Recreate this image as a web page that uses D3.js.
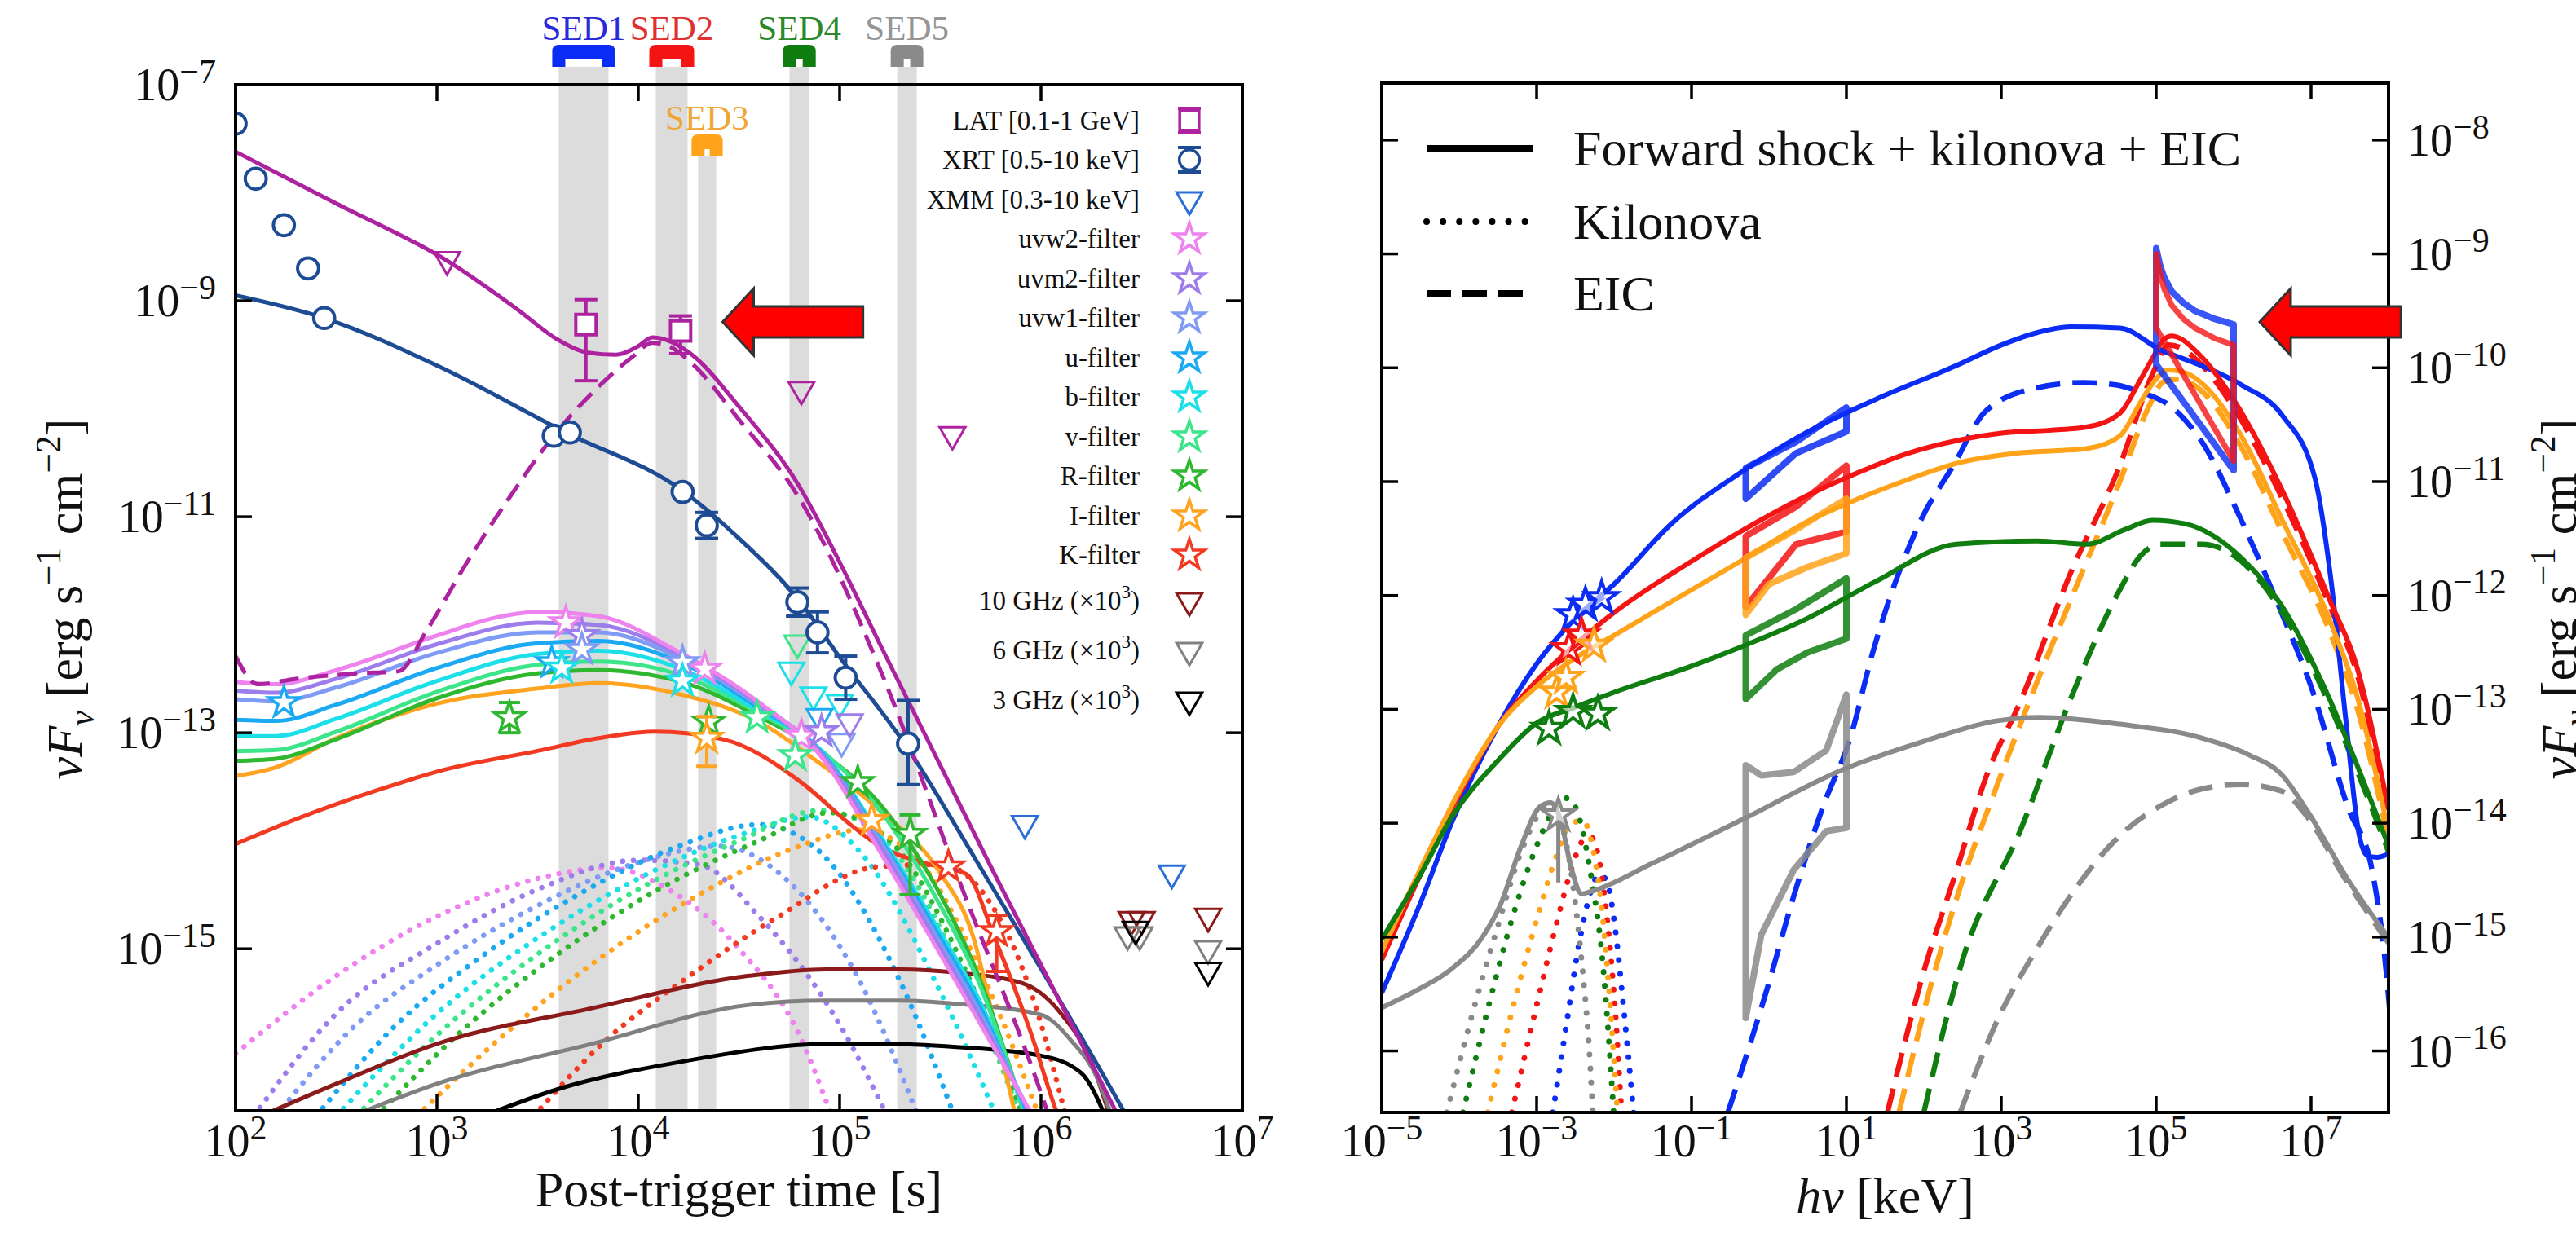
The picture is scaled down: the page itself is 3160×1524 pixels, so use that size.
<!DOCTYPE html>
<html><head><meta charset="utf-8">
<script src="https://cdn.jsdelivr.net/npm/d3@7"></script>
<style>body{margin:0;background:#fff}svg{display:block}text{font-family:"Liberation Serif","Times New Roman",serif;fill:#111}</style>
</head><body><svg id="c" width="3160" height="1524"></svg>
<script>
// ================= DATA (all values are log10) =================
// ---- Left panel: x = log10(t [s]), y = log10(nuFnu)
const sedNames=["SED1","SED2","SED3","SED4","SED5"];
const sedRanges=[[3.605,3.852],[4.087,4.245],[4.297,4.387],[4.751,4.849],[5.286,5.383]];
const sedColors=["#0a2cf5","#f51414","#ffa31a","#0f7d0f","#8a8a8a"];
const sedTextColors=["#2a2ad8","#e03030","#f0a635","#2a8a2a","#959595"];

const latModel=[[2.0,-7.62],[2.5,-8.1],[3.06,-8.64],[3.4,-9.08],[3.6,-9.36],[3.75,-9.48],[3.89,-9.5],[4.0,-9.42],[4.07,-9.34],[4.15,-9.37],[4.26,-9.49],[4.5,-9.98],[4.8,-10.72],[5.0,-11.42],[5.2,-12.18],[5.74,-14.2],[6.37,-16.5],[6.45,-16.8]];
const latEIC=[[2.0,-12.29],[2.11,-12.55],[2.3,-12.5],[2.6,-12.45],[2.81,-12.43],[2.95,-12.05],[3.14,-11.45],[3.35,-10.85],[3.58,-10.25],[3.8,-9.8],[3.97,-9.52],[4.07,-9.39],[4.15,-9.42],[4.26,-9.57],[4.5,-10.1],[4.8,-10.83],[5.2,-12.41],[5.6,-14.4],[6.03,-16.5],[6.1,-16.9]];
const xrtModel=[[2.0,-8.95],[2.44,-9.16],[3.0,-9.6],[3.64,-10.22],[4.22,-10.76],[4.5,-11.2],[4.8,-11.78],[5.0,-12.3],[5.33,-13.12],[5.7,-14.25],[6.41,-16.5],[6.5,-16.8]];

const uvw2Model=[[2.0,-12.53],[2.2,-12.55],[2.5,-12.42],[3.0,-12.1],[3.3,-11.93],[3.5,-11.88],[3.8,-11.92],[4.2,-12.25],[4.6,-12.72],[4.9,-13.2],[5.2,-14.1],[5.5,-15.05],[5.7,-15.7],[5.96,-16.55]];
const uvm2Model=[[2.0,-12.61],[2.2,-12.63],[2.5,-12.5],[3.0,-12.18],[3.5,-11.98],[3.8,-12.0],[4.2,-12.27],[4.6,-12.73],[4.9,-13.18],[5.2,-14.05],[5.5,-15.0],[5.7,-15.65],[5.95,-16.55]];
const uvw1Model=[[2.0,-12.69],[2.2,-12.71],[2.5,-12.58],[3.0,-12.26],[3.5,-12.07],[3.8,-12.07],[4.2,-12.3],[4.6,-12.75],[4.9,-13.17],[5.2,-14.0],[5.5,-14.95],[5.7,-15.6],[5.95,-16.55]];
const uModel=[[2.0,-12.88],[2.2,-12.89],[2.5,-12.74],[3.0,-12.4],[3.5,-12.17],[3.8,-12.15],[4.2,-12.34],[4.6,-12.77],[4.9,-13.16],[5.2,-13.98],[5.5,-14.9],[5.7,-15.55],[5.94,-16.55]];
const bModel=[[2.0,-13.03],[2.2,-13.03],[2.5,-12.87],[3.0,-12.52],[3.5,-12.27],[3.8,-12.24],[4.2,-12.4],[4.6,-12.8],[4.9,-13.15],[5.2,-13.95],[5.5,-14.85],[5.7,-15.5],[5.93,-16.55]];
const vModel=[[2.0,-13.17],[2.2,-13.16],[2.5,-12.99],[3.0,-12.62],[3.5,-12.37],[3.8,-12.34],[4.2,-12.46],[4.6,-12.82],[4.9,-13.15],[5.2,-13.72],[5.5,-14.6],[5.7,-15.35],[5.92,-16.55]];
const rModel=[[2.0,-13.26],[2.2,-13.24],[2.5,-13.06],[3.0,-12.68],[3.5,-12.45],[3.8,-12.42],[4.2,-12.52],[4.6,-12.85],[4.9,-13.17],[5.2,-13.66],[5.5,-14.5],[5.7,-15.3],[5.92,-16.55]];
const iModel=[[2.0,-13.4],[2.2,-13.32],[2.5,-13.05],[3.0,-12.73],[3.5,-12.59],[3.8,-12.54],[4.2,-12.64],[4.6,-12.9],[4.9,-13.28],[5.2,-13.72],[5.5,-14.3],[5.66,-14.87],[5.79,-15.87],[5.88,-16.6]];
const kModel=[[2.0,-14.03],[2.3,-13.8],[2.74,-13.51],[3.0,-13.36],[3.52,-13.16],[3.8,-13.05],[4.08,-12.99],[4.42,-13.06],[4.81,-13.46],[5.06,-13.86],[5.19,-14.04],[5.45,-14.22],[5.63,-14.31],[5.77,-14.9],[5.95,-15.78],[6.08,-16.52],[6.12,-16.7]];

const uvw2KN=[[2.0,-15.97],[2.5,-15.25],[3.0,-14.7],[3.5,-14.35],[3.85,-14.25],[4.15,-14.45],[4.5,-15.0],[4.8,-15.8],[4.97,-16.6]];
const uvm2KN=[[2.09,-16.55],[2.5,-15.6],[3.0,-14.95],[3.5,-14.45],[4.0,-14.18],[4.3,-14.22],[4.6,-14.7],[5.0,-15.7],[5.25,-16.6]];
const uvw1KN=[[2.2,-16.55],[2.6,-15.7],[3.0,-15.15],[3.5,-14.6],[4.0,-14.2],[4.4,-14.05],[4.7,-14.3],[5.1,-15.3],[5.4,-16.6]];
const uKN=[[2.4,-16.55],[2.8,-15.7],[3.2,-15.1],[3.7,-14.5],[4.2,-14.05],[4.6,-13.85],[4.9,-14.1],[5.3,-15.3],[5.58,-16.6]];
const bKN=[[2.5,-16.55],[3.0,-15.6],[3.5,-14.9],[4.0,-14.35],[4.5,-13.95],[4.85,-13.78],[5.1,-14.1],[5.5,-15.4],[5.79,-16.6]];
const vKN=[[2.6,-16.55],[3.0,-15.8],[3.5,-15.05],[4.0,-14.45],[4.5,-14.0],[4.9,-13.72],[5.2,-13.95],[5.6,-15.2],[5.91,-16.6]];
const rKN=[[2.7,-16.55],[3.1,-15.8],[3.6,-15.05],[4.1,-14.45],[4.6,-14.0],[4.95,-13.74],[5.25,-14.0],[5.6,-15.1],[5.92,-16.6]];
const iKN=[[2.9,-16.55],[3.3,-15.85],[3.8,-15.1],[4.3,-14.5],[4.8,-14.05],[5.1,-13.9],[5.35,-14.1],[5.7,-15.2],[6.0,-16.6]];
const kKN=[[3.48,-16.55],[3.82,-15.88],[4.24,-15.27],[4.68,-14.72],[5.19,-14.24],[5.5,-14.22],[5.72,-14.5],[5.95,-15.4],[6.13,-16.6]];

const radio10Model=[[2.1,-16.57],[2.5,-16.25],[3.0,-15.88],[3.77,-15.55],[4.55,-15.25],[4.93,-15.19],[5.3,-15.19],[5.58,-15.22],[5.91,-15.32],[6.1,-15.6],[6.25,-16.05],[6.35,-16.6]];
const radio6Model=[[2.55,-16.57],[3.0,-16.25],[3.77,-15.88],[4.55,-15.52],[4.93,-15.48],[5.3,-15.48],[5.58,-15.51],[6.0,-15.61],[6.15,-15.85],[6.28,-16.2],[6.36,-16.6]];
const radio3Model=[[3.2,-16.57],[3.6,-16.3],[4.2,-16.05],[4.96,-15.88],[5.2,-15.88],[5.58,-15.91],[6.0,-15.99],[6.2,-16.15],[6.33,-16.6]];

// observations: [log t, log F, log lower, log upper] (null = no error bar)
const xrtData=[[2.0,-7.36,null,null],[2.1,-7.87,null,null],[2.24,-8.3,null,null],[2.36,-8.7,null,null],[2.44,-9.16,null,null],[3.58,-10.25,null,null],[3.66,-10.22,null,null],[4.22,-10.77,null,null],[4.34,-11.08,-11.2,-10.96],[4.79,-11.79,-11.92,-11.66],[4.89,-12.07,-12.26,-11.88],[5.03,-12.49,-12.69,-12.29],[5.34,-13.1,-13.48,-12.7]];
const latData=[[3.74,-9.22,-9.74,-8.99],[4.21,-9.28,-9.49,-9.14]];
const latUL=[[3.05,-8.62],[4.81,-9.82],[5.56,-10.24]];
const xmmUL=[[5.92,-13.84],[6.65,-14.3]];
const radio10UL=[[6.45,-14.73],[6.5,-14.73],[6.83,-14.7]];
const radio6UL=[[6.43,-14.87],[6.49,-14.87],[6.83,-15.0]];
const radio3UL=[[6.47,-14.82],[6.83,-15.2]];
const uvw2Obs=[[3.64,-11.98,null,null],[4.33,-12.41,null,null],[4.81,-13.03,null,null]];
const uvm2Obs=[[3.72,-12.1,null,null],[4.91,-12.99,null,null]];
const uvw1Obs=[[3.72,-12.23,null,null],[4.22,-12.35,null,null]];
const uObs=[[2.24,-12.72,null,null],[3.57,-12.35,null,null]];
const bObs=[[3.62,-12.4,null,null],[4.22,-12.52,null,null]];
const vObs=[[4.59,-12.86,null,null],[4.78,-13.21,null,null]];
const rObs=[[3.36,-12.86,-13.0,-12.72],[4.35,-12.9,null,null],[5.09,-13.46,null,null],[5.35,-13.94,-14.5,-13.76]];
const iObs=[[4.34,-13.05,-13.31,-12.85],[5.16,-13.81,null,null]];
const kObs=[[5.54,-14.24,null,null],[5.78,-14.84,-15.21,-14.69]];
const vUL=[[4.79,-12.17]];
const bUL=[[4.76,-12.42],[4.87,-12.65],[5.0,-12.72]];
const uUL=[[4.9,-12.85]];
const uvw1UL=[[5.01,-13.08]];
const uvm2UL=[[5.05,-12.9]];

const filterNames=["uvw2","uvm2","uvw1","u","b","v","R","I","K"];
const filterColors=["#ee82ee","#9d7cec","#7f9bf4","#1aa9f2","#1ddfe8","#3de58a","#2fb82f","#ffa320","#f23a22"];
const colLAT="#ad239f", colXRT="#1d4c95", colXMM="#2a6fd6", colR10="#8b1a1a", colR6="#808080", colR3="#000000";
const leftLegendLabels=["LAT [0.1-1 GeV]","XRT [0.5-10 keV]","XMM [0.3-10 keV]","uvw2-filter","uvm2-filter","uvw1-filter","u-filter","b-filter","v-filter","R-filter","I-filter","K-filter","10 GHz (×10","6 GHz (×10","3 GHz (×10"];

// ---- Right panel: x = log10(hν [keV]), y = log10(nuFnu)
const sedModels=[
 [[-5,-15.49],[-4.5,-14.7],[-4.1,-14.0],[-3.5,-13.15],[-3.0,-12.6],[-2.5,-12.2],[-2.0,-11.9],[-1.26,-11.37],[-0.32,-10.9],[0.4,-10.6],[1.37,-10.28],[2.42,-9.98],[3.0,-9.8],[3.47,-9.69],[3.89,-9.64],[4.53,-9.65],[5.05,-9.84],[5.58,-9.98],[6.1,-10.15],[6.63,-10.42],[7.05,-10.97],[7.26,-11.88],[7.45,-13.1],[7.62,-14.1],[7.72,-14.28],[7.85,-14.3],[8.0,-14.27]],
 [[-5,-15.2],[-4.5,-14.45],[-4.0,-13.75],[-3.5,-13.15],[-3.0,-12.75],[-2.5,-12.43],[-2.0,-12.15],[-1.0,-11.7],[-0.32,-11.42],[0.5,-11.12],[1.05,-10.95],[1.8,-10.75],[2.42,-10.64],[3.05,-10.57],[3.6,-10.55],[4.1,-10.52],[4.53,-10.4],[4.8,-10.1],[4.95,-9.92],[5.1,-9.75],[5.2,-9.72],[5.58,-9.9],[6.0,-10.28],[6.63,-11.08],[7.26,-12.07],[7.58,-12.6],[8.0,-13.88]],
 [[-5,-15.13],[-4.5,-14.4],[-4.0,-13.72],[-3.5,-13.15],[-3.0,-12.8],[-2.5,-12.55],[-2.0,-12.35],[-1.0,-11.95],[-0.32,-11.68],[0.5,-11.35],[1.05,-11.18],[1.8,-10.98],[2.42,-10.84],[3.2,-10.75],[4.1,-10.71],[4.53,-10.6],[4.8,-10.3],[4.95,-10.14],[5.16,-10.02],[5.4,-10.05],[5.58,-10.13],[6.1,-10.6],[6.63,-11.34],[7.26,-12.25],[7.6,-12.9],[8.0,-14.08]],
 [[-5,-15.02],[-4.5,-14.45],[-4.1,-13.95],[-3.5,-13.45],[-3.0,-13.12],[-2.5,-12.98],[-2.0,-12.85],[-1.0,-12.62],[-0.32,-12.44],[0.5,-12.2],[1.37,-11.88],[2.42,-11.55],[3.47,-11.52],[4.1,-11.55],[4.6,-11.42],[4.95,-11.34],[5.37,-11.37],[6.1,-11.67],[6.63,-12.1],[7.2,-12.85],[7.6,-13.5],[8.0,-14.2]],
 [[-5,-15.62],[-4.5,-15.45],[-4.1,-15.28],[-3.7,-15.0],[-3.47,-14.72],[-3.2,-14.2],[-2.95,-13.85],[-2.82,-13.82],[-2.7,-13.95],[-2.55,-14.4],[-2.42,-14.62],[-2.3,-14.6],[-1.5,-14.35],[-0.32,-13.96],[0.95,-13.53],[2.0,-13.28],[2.95,-13.1],[3.5,-13.07],[4.53,-13.13],[5.58,-13.25],[6.2,-13.4],[6.63,-13.58],[6.95,-13.89],[7.47,-14.49],[8.05,-15.05]]
];
const sedEIC=[
 [[-0.53,-16.54],[0.0,-15.4],[0.32,-14.64],[0.7,-13.85],[1.05,-13.25],[1.34,-12.5],[1.96,-11.34],[2.38,-10.86],[2.8,-10.38],[3.43,-10.18],[4.06,-10.13],[4.48,-10.15],[4.74,-10.2],[5.26,-10.38],[5.58,-10.64],[6.1,-11.34],[6.63,-12.17],[7.0,-12.8],[7.47,-13.85],[7.79,-14.42],[7.95,-15.17],[8.05,-15.92]],
 [[1.53,-16.54],[2.0,-15.3],[2.42,-14.42],[2.8,-13.6],[3.26,-12.91],[3.89,-11.81],[4.53,-10.86],[4.95,-10.06],[5.16,-9.8],[5.3,-9.82],[5.58,-9.97],[6.0,-10.35],[6.63,-11.15],[7.26,-12.12],[7.6,-12.7],[8.0,-14.0]],
 [[1.68,-16.54],[2.1,-15.4],[2.5,-14.5],[2.9,-13.75],[3.35,-12.95],[3.95,-11.95],[4.53,-11.0],[4.9,-10.35],[5.1,-10.12],[5.3,-10.1],[5.58,-10.2],[6.1,-10.7],[6.63,-11.45],[7.26,-12.35],[7.6,-13.0],[8.0,-14.15]],
 [[2.0,-16.54],[2.5,-15.2],[3.26,-14.04],[3.9,-12.9],[4.53,-11.95],[4.8,-11.65],[5.05,-11.55],[5.58,-11.55],[6.1,-11.7],[6.63,-12.15],[7.2,-12.9],[7.6,-13.55],[8.0,-14.25]],
 [[2.47,-16.54],[2.95,-15.73],[3.47,-15.09],[3.89,-14.64],[4.53,-14.11],[5.16,-13.81],[5.58,-13.7],[6.1,-13.66],[6.63,-13.72],[6.9,-13.9],[7.47,-14.52],[8.05,-15.1]]
];
const sedKN=[
 [[-2.79,-16.54],[-2.6,-15.7],[-2.45,-15.05],[-2.3,-14.6],[-2.2,-14.45],[-2.1,-14.5],[-2.0,-14.85],[-1.88,-15.6],[-1.74,-16.6]],
 [[-3.32,-16.54],[-3.0,-15.6],[-2.75,-14.9],[-2.55,-14.4],[-2.4,-14.15],[-2.3,-14.12],[-2.2,-14.3],[-2.08,-14.9],[-1.98,-15.7],[-1.9,-16.6]],
 [[-3.63,-16.54],[-3.3,-15.6],[-3.0,-14.85],[-2.75,-14.3],[-2.55,-14.0],[-2.4,-13.98],[-2.28,-14.2],[-2.15,-14.8],[-2.05,-15.6],[-1.95,-16.6]],
 [[-3.95,-16.54],[-3.6,-15.55],[-3.3,-14.8],[-3.0,-14.2],[-2.75,-13.85],[-2.6,-13.78],[-2.45,-13.95],[-2.3,-14.45],[-2.15,-15.2],[-2.0,-16.6]],
 [[-4.16,-16.54],[-3.8,-15.6],[-3.5,-14.9],[-3.2,-14.25],[-2.95,-13.9],[-2.82,-13.83],[-2.7,-13.95],[-2.55,-14.45],[-2.42,-15.2],[-2.32,-16.0],[-2.27,-16.6]]
];
// X-ray (0.5-10 keV) bow-ties: upper edge (left→right) then lower edge (right→left)
const sedXrtBow=[
 [[-0.3,-10.88],[0.35,-10.65],[1.0,-10.35],[1.0,-10.56],[0.35,-10.75],[-0.3,-11.15]],
 [[-0.3,-11.48],[0.35,-11.22],[1.0,-10.86],[1.0,-11.44],[0.35,-11.55],[-0.3,-12.1]],
 [[-0.3,-11.67],[0.35,-11.42],[1.0,-11.15],[1.0,-11.63],[0.5,-11.75],[0.0,-11.9],[-0.3,-12.17]],
 [[-0.3,-12.35],[0.35,-12.12],[1.0,-11.85],[1.0,-12.38],[0.5,-12.5],[0.1,-12.65],[-0.3,-12.91]],
 [[-0.3,-13.49],[-0.1,-13.58],[0.32,-13.55],[0.74,-13.36],[1.0,-12.87],[1.0,-14.04],[0.74,-14.07],[0.32,-14.41],[-0.1,-14.98],[-0.3,-15.71]]
];
// LAT (0.1-1 GeV) bow-ties for SED1 and SED2
const sed1LatBow=[[5.0,-8.95],[5.05,-9.1],[5.1,-9.2],[5.2,-9.33],[5.35,-9.43],[5.5,-9.5],[5.75,-9.57],[6.0,-9.62],[6.0,-10.9],[5.0,-9.97]];
const sed2LatBow=[[5.0,-9.0],[5.05,-9.17],[5.1,-9.3],[5.2,-9.45],[5.35,-9.57],[5.5,-9.65],[5.75,-9.74],[6.0,-9.8],[6.0,-10.82],[5.0,-9.65]];
const sedStars=[
 [[-2.53,-12.17],[-2.37,-12.08],[-2.16,-12.02]],
 [[-2.58,-12.47],[-2.42,-12.35]],
 [[-2.26,-12.44],[-2.74,-12.85],[-2.62,-12.72]],
 [[-2.84,-13.17],[-2.53,-13.02],[-2.21,-13.04]],
 [[-2.72,-13.93]]
];
const sed5StarErr=[-14.52,-13.93];
const rightLegendLabels=["Forward shock + kilonova + EIC","Kilonova","EIC"];
const leftArrow=[[4.419,-9.196],[5.116,-9.196]];
const rightArrow=[[6.337,-9.597],[8.16,-9.597]];
const leftXTicks=[2,3,4,5,6,7], leftYTicks=[-7,-9,-11,-13,-15];
const rightXTicks=[-5,-3,-1,1,3,5,7], rightYTicks=[-8,-9,-10,-11,-12,-13,-14,-15,-16];

// ================= DRAWING =================
const E=v=>Math.pow(10,v);
const svg=d3.select("#c");
svg.append("rect").attr("width",3160).attr("height",1524).attr("fill","#fff");
const L={x0:289,x1:1524,y0:104,y1:1363}, R={x0:1695,x1:2930,y0:102,y1:1365};
const lx=d3.scaleLog().domain([1e2,1e7]).range([L.x0,L.x1]);
const ly=d3.scaleLog().domain([E(-16.5),1e-7]).range([L.y1,L.y0]);
const rx=d3.scaleLog().domain([1e-5,1e8]).range([R.x0,R.x1]);
const ry=d3.scaleLog().domain([E(-16.54),E(-7.5)]).range([R.y1,R.y0]);
const defs=svg.append("defs");
defs.append("clipPath").attr("id","cl").append("rect").attr("x",L.x0).attr("y",L.y0).attr("width",L.x1-L.x0).attr("height",L.y1-L.y0);
defs.append("clipPath").attr("id","cr").append("rect").attr("x",R.x0).attr("y",R.y0).attr("width",R.x1-R.x0).attr("height",R.y1-R.y0);

function rich(sel,parts,base,supScale,supRise){
  let shift=0;
  parts.forEach(([s,t])=>{
    const ts=sel.append("tspan").text(s);
    let target=0;
    if(t==="sup") target=-base*(supRise||0.42);
    if(t==="sub"||t==="isub") target=base*0.24;
    ts.attr("dy",target-shift); shift=target;
    if(t==="sup"||t==="sub"||t==="isub") ts.attr("font-size",base*(supScale||0.7));
    if(t==="i"||t==="isub") ts.attr("font-style","italic");
  });
}
const lineL=(c)=>d3.line().x(d=>lx(E(d[0]))).y(d=>ly(E(d[1]))).curve(c||d3.curveMonotoneX);
const lineR=(c)=>d3.line().x(d=>rx(E(d[0]))).y(d=>ry(E(d[1]))).curve(c||d3.curveMonotoneX);
const sym=(type,size)=>d3.symbol().type(type).size(size)();

// ---------- LEFT PANEL ----------
sedRanges.forEach((r,i)=>{
  const xa=lx(E(r[0])), xb=lx(E(r[1]));
  const by0=(i===2)?165:55, by1=by0+27, top=by1;
  svg.append("rect").attr("x",xa).attr("y",top).attr("width",xb-xa).attr("height",L.y1-top).attr("fill","#dcdcdc");
  const o=8;
  const p=`M${xa-o},${by1} L${xa-o},${by0+8} Q${xa-o},${by0} ${xa},${by0} L${xb},${by0} Q${xb+o},${by0} ${xb+o},${by0+8} L${xb+o},${by1} L${xb-o},${by1} L${xb-o},${by1-9} L${xa+o},${by1-9} L${xa+o},${by1} Z`;
  svg.append("path").attr("d",p).attr("fill",sedColors[i]);
  svg.append("text").attr("x",(xa+xb)/2).attr("y",by0-6).attr("text-anchor","middle").attr("font-size",43).style("fill",sedTextColors[i]).text(sedNames[i]);
});

const gL=svg.append("g").attr("clip-path","url(#cl)");
const knList=[uvw2KN,uvm2KN,uvw1KN,uKN,bKN,vKN,rKN,iKN,kKN];
knList.forEach((d,i)=>gL.append("path").attr("d",lineL()(d)).attr("fill","none").attr("stroke",filterColors[i]).attr("stroke-width",6.5).attr("stroke-linecap","round").attr("stroke-dasharray","0.1 13"));
[[radio10Model,colR10],[radio6Model,colR6],[radio3Model,colR3]].forEach(([d,c])=>gL.append("path").attr("d",lineL()(d)).attr("fill","none").attr("stroke",c).attr("stroke-width",5));
const modelList=[uvw2Model,uvm2Model,uvw1Model,uModel,bModel,vModel,rModel,iModel,kModel];
for(let i=modelList.length-1;i>=0;i--) gL.append("path").attr("d",lineL()(modelList[i])).attr("fill","none").attr("stroke",filterColors[i]).attr("stroke-width",5);
gL.append("path").attr("d",lineL()(xrtModel)).attr("fill","none").attr("stroke",colXRT).attr("stroke-width",5);
gL.append("path").attr("d",lineL()(latEIC)).attr("fill","none").attr("stroke",colLAT).attr("stroke-width",5).attr("stroke-dasharray","24 12");
gL.append("path").attr("d",lineL()(latModel)).attr("fill","none").attr("stroke",colLAT).attr("stroke-width",5);

function errL(g,d,color,cap){
  if(d[2]===null) return;
  const x=lx(E(d[0]));
  g.append("line").attr("x1",x).attr("x2",x).attr("y1",ly(E(d[2]))).attr("y2",ly(E(d[3]))).attr("stroke",color).attr("stroke-width",4);
  [d[2],d[3]].forEach(v=>g.append("line").attr("x1",x-cap).attr("x2",x+cap).attr("y1",ly(E(v))).attr("y2",ly(E(v))).attr("stroke",color).attr("stroke-width",4));
}
function markL(g,d,path,color,fill,rot,sw){
  g.append("path").attr("d",path).attr("transform",`translate(${lx(E(d[0]))},${ly(E(d[1]))})${rot?" rotate(180)":""}`)
   .attr("fill",fill).attr("stroke",color).attr("stroke-width",sw||3.5);
}
const starP=sym(d3.symbolStar,430), triP=sym(d3.symbolTriangle,430), circP=sym(d3.symbolCircle,520), sqP=sym(d3.symbolSquare,620);
latUL.forEach(d=>markL(gL,d,triP,colLAT,"none",true,3));
xmmUL.forEach(d=>markL(gL,d,triP,colXMM,"none",true,3));
radio10UL.forEach(d=>markL(gL,d,triP,colR10,"none",true,3));
radio6UL.forEach(d=>markL(gL,d,triP,colR6,"none",true,3));
radio3UL.forEach(d=>markL(gL,d,triP,colR3,"none",true,3));
[[vUL,5],[bUL,4],[uUL,3],[uvw1UL,2],[uvm2UL,1]].forEach(([arr,ci])=>arr.forEach(d=>markL(gL,d,triP,filterColors[ci],"none",true,3)));
const obsList=[uvw2Obs,uvm2Obs,uvw1Obs,uObs,bObs,vObs,rObs,iObs,kObs];
obsList.forEach((arr,i)=>arr.forEach(d=>{errL(gL,d,filterColors[i],13);markL(gL,d,starP,filterColors[i],"#fff",false,3.5);}));
xrtData.forEach(d=>{errL(gL,d,colXRT,14);markL(gL,d,circP,colXRT,"#fff",false,4);});
latData.forEach(d=>{errL(gL,d,colLAT,14);markL(gL,d,sqP,colLAT,"#fff",false,4);});

// legend (left)
const legTypes=["sq","circ","tri","star","star","star","star","star","star","star","star","star","tri","tri","tri"];
const legColors=[colLAT,colXRT,colXMM].concat(filterColors).concat([colR10,colR6,colR3]);
const legY=[148,196,245,293,342,390,439,487,536,584,633,681,737,798,859];
leftLegendLabels.forEach((lab,i)=>{
  const y=legY[i], mx=1459;
  const t=svg.append("text").attr("x",1398).attr("y",y+11).attr("text-anchor","end").attr("font-size",33);
  if(i>=12) rich(t,[[lab,"n"],["3","sup"],[")","n"]],33,0.7,0.42); else t.text(lab);
  const c=legColors[i], ty=legTypes[i];
  if(ty==="sq"||ty==="circ"){
    svg.append("line").attr("x1",mx).attr("x2",mx).attr("y1",y-15).attr("y2",y+15).attr("stroke",c).attr("stroke-width",4);
    [y-15,y+15].forEach(v=>svg.append("line").attr("x1",mx-14).attr("x2",mx+14).attr("y1",v).attr("y2",v).attr("stroke",c).attr("stroke-width",4));
  }
  const p=ty==="sq"?sym(d3.symbolSquare,560):ty==="circ"?sym(d3.symbolCircle,480):ty==="tri"?triP:starP;
  svg.append("path").attr("d",p).attr("transform",`translate(${mx},${y})${ty==="tri"?" rotate(180)":""}`).attr("fill",(ty==="tri"||ty==="star")?"none":"#fff").attr("stroke",c).attr("stroke-width",ty==="tri"?3:3.5);
});

// frame + ticks left
svg.append("rect").attr("x",L.x0).attr("y",L.y0).attr("width",L.x1-L.x0).attr("height",L.y1-L.y0).attr("fill","none").attr("stroke","#000").attr("stroke-width",4);
leftXTicks.forEach(v=>{
  const x=lx(E(v));
  svg.append("line").attr("x1",x).attr("x2",x).attr("y1",L.y1).attr("y2",L.y1-20).attr("stroke","#000").attr("stroke-width",3.5);
  svg.append("line").attr("x1",x).attr("x2",x).attr("y1",L.y0).attr("y2",L.y0+20).attr("stroke","#000").attr("stroke-width",3.5);
  const t=svg.append("text").attr("x",x).attr("y",L.y1+56).attr("text-anchor","middle").attr("font-size",56);
  rich(t,[["10","n"],[String(v),"sup"]],56,0.75,0.38);
});
leftYTicks.forEach(v=>{
  const y=ly(E(v));
  svg.append("line").attr("x1",L.x0).attr("x2",L.x0+20).attr("y1",y).attr("y2",y).attr("stroke","#000").attr("stroke-width",3.5);
  svg.append("line").attr("x1",L.x1).attr("x2",L.x1-20).attr("y1",y).attr("y2",y).attr("stroke","#000").attr("stroke-width",3.5);
  const t=svg.append("text").attr("x",L.x0-24).attr("y",y+19).attr("text-anchor","end").attr("font-size",56);
  rich(t,[["10","n"],["\u2212"+Math.abs(v),"sup"]],56,0.75,0.38);
});
svg.append("text").attr("x",(L.x0+L.x1)/2).attr("y",1480).attr("text-anchor","middle").attr("font-size",62).text("Post-trigger time [s]");
function yLabel(x){
  const t=svg.append("text").attr("transform",`translate(${x},735) rotate(-90)`).attr("text-anchor","middle").attr("font-size",62);
  rich(t,[["\u03BDF","i"],["\u03BD","isub"],[" [erg s","n"],["\u22121","sup"],[" cm","n"],["\u22122","sup"],["]","n"]],62,0.7,0.42);
}
yLabel(100);

// ---------- RIGHT PANEL ----------
const gR=svg.append("g").attr("clip-path","url(#cr)");
sedKN.forEach((d,i)=>gR.append("path").attr("d",lineR()(d)).attr("fill","none").attr("stroke",sedColors[i]).attr("stroke-width",7).attr("stroke-linecap","round").attr("stroke-dasharray","0.1 17"));
sedEIC.forEach((d,i)=>gR.append("path").attr("d",lineR()(d)).attr("fill","none").attr("stroke",sedColors[i]).attr("stroke-width",6.5).attr("stroke-dasharray","30 15"));
sedModels.forEach((d,i)=>gR.append("path").attr("d",lineR()(d)).attr("fill","none").attr("stroke",sedColors[i]).attr("stroke-width",6));
sedXrtBow.forEach((d,i)=>gR.append("path").attr("d",lineR(d3.curveLinearClosed)(d)).attr("fill","none").attr("stroke",sedColors[i]).attr("stroke-width",8).attr("stroke-opacity",0.85).attr("stroke-linejoin","round"));
gR.append("path").attr("d",lineR(d3.curveLinearClosed)(sed1LatBow)).attr("fill","none").attr("stroke",sedColors[0]).attr("stroke-width",8).attr("stroke-opacity",0.8).attr("stroke-linejoin","round");
gR.append("path").attr("d",lineR(d3.curveLinearClosed)(sed2LatBow)).attr("fill","none").attr("stroke",sedColors[1]).attr("stroke-width",7).attr("stroke-opacity",0.8).attr("stroke-linejoin","round");
{
  const x=rx(E(sedStars[4][0][0]));
  gR.append("line").attr("x1",x).attr("x2",x).attr("y1",ry(E(sed5StarErr[0]))).attr("y2",ry(E(sed5StarErr[1]))).attr("stroke",sedColors[4]).attr("stroke-width",5);
}
const starR=sym(d3.symbolStar,470);
sedStars.forEach((arr,i)=>arr.forEach(d=>gR.append("path").attr("d",starR).attr("transform",`translate(${rx(E(d[0]))},${ry(E(d[1]))})`).attr("fill","#fff").attr("fill-opacity",0.6).attr("stroke",sedColors[i]).attr("stroke-width",4)));

// legend (right)
const lgy=[182,272,360], lgDash=[null,"0.1 20","30 14"], lgCap=["butt","round","butt"];
rightLegendLabels.forEach((lab,i)=>{
  const ln=svg.append("line").attr("x1",1750).attr("x2",1880).attr("y1",lgy[i]).attr("y2",lgy[i]).attr("stroke","#000").attr("stroke-width",8).attr("stroke-linecap",lgCap[i]);
  if(lgDash[i]) ln.attr("stroke-dasharray",lgDash[i]);
  svg.append("text").attr("x",1930).attr("y",lgy[i]+21).attr("font-size",62).text(lab);
});

// frame + ticks right
svg.append("rect").attr("x",R.x0).attr("y",R.y0).attr("width",R.x1-R.x0).attr("height",R.y1-R.y0).attr("fill","none").attr("stroke","#000").attr("stroke-width",4);
rightXTicks.forEach(v=>{
  const x=rx(E(v));
  svg.append("line").attr("x1",x).attr("x2",x).attr("y1",R.y1).attr("y2",R.y1-20).attr("stroke","#000").attr("stroke-width",3.5);
  svg.append("line").attr("x1",x).attr("x2",x).attr("y1",R.y0).attr("y2",R.y0+20).attr("stroke","#000").attr("stroke-width",3.5);
  const t=svg.append("text").attr("x",x).attr("y",R.y1+54).attr("text-anchor","middle").attr("font-size",56);
  rich(t,[["10","n"],[(v<0?"\u2212":"")+Math.abs(v),"sup"]],56,0.75,0.38);
});
rightYTicks.forEach(v=>{
  const y=ry(E(v));
  svg.append("line").attr("x1",R.x0).attr("x2",R.x0+20).attr("y1",y).attr("y2",y).attr("stroke","#000").attr("stroke-width",3.5);
  svg.append("line").attr("x1",R.x1).attr("x2",R.x1-20).attr("y1",y).attr("y2",y).attr("stroke","#000").attr("stroke-width",3.5);
  const t=svg.append("text").attr("x",R.x1+23).attr("y",y+19).attr("text-anchor","start").attr("font-size",56);
  rich(t,[["10","n"],["\u2212"+Math.abs(v),"sup"]],56,0.75,0.38);
});
{
  const t=svg.append("text").attr("x",(R.x0+R.x1)/2).attr("y",1488).attr("text-anchor","middle").attr("font-size",62);
  rich(t,[["h\u03BD","i"],[" [keV]","n"]],62);
}
yLabel(3160);

// ---------- arrows ----------
function arrow(tip,tail,xs,ys){
  const tx=xs(E(tip[0])), ty=ys(E(tip[1])), ex=xs(E(tail[0]));
  const hl=38, hh=41, sh=19;
  const p=`M${tx},${ty} L${tx+hl},${ty-hh} L${tx+hl},${ty-sh} L${ex},${ty-sh} L${ex},${ty+sh} L${tx+hl},${ty+sh} L${tx+hl},${ty+hh} Z`;
  svg.append("path").attr("d",p).attr("fill","#ff0000").attr("stroke","#333").attr("stroke-width",3).attr("stroke-linejoin","miter");
}
arrow(leftArrow[0],leftArrow[1],lx,ly);
arrow(rightArrow[0],rightArrow[1],rx,ry);
</script></body></html>
